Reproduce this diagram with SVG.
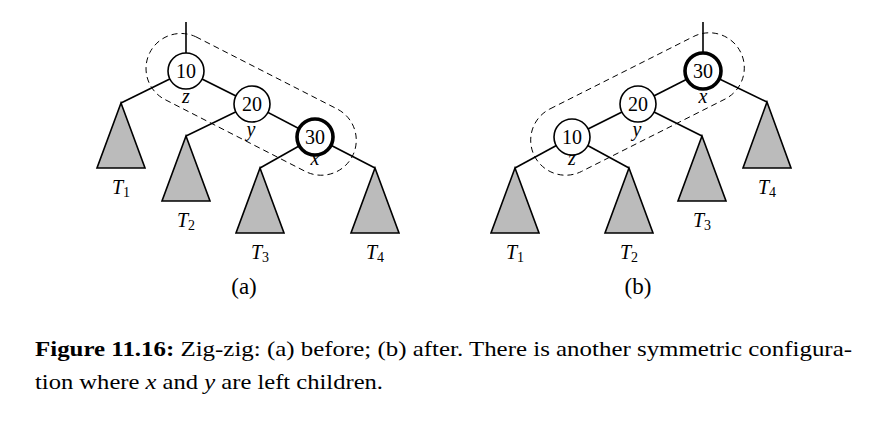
<svg xmlns="http://www.w3.org/2000/svg" width="882" height="423" viewBox="0 0 882 423">
<style>
.e{stroke:#000;stroke-width:1.6;fill:none}
.n{fill:#fff;stroke:#000;stroke-width:1.6}
.nb{fill:#fff;stroke:#000;stroke-width:3.6}
.t{fill:#bbbbbb;stroke:#000;stroke-width:1.6;stroke-linejoin:miter}
.d{fill:none;stroke:#000;stroke-width:1;stroke-dasharray:6 4}
text{font-family:'Liberation Serif','Times New Roman',serif}
.lab{font-size:20px;text-anchor:middle}
.it{font-style:italic;font-size:20px;text-anchor:middle}
.sub{font-style:normal;font-size:14px}
.cap{font-size:22px}
</style>
<rect width="882" height="423" fill="#fff"/>
<g id="connectors">
<line class="e" x1="186" y1="22" x2="186" y2="71"/>
<line class="e" x1="186" y1="71" x2="121" y2="103"/>
<line class="e" x1="186" y1="71" x2="252" y2="104"/>
<line class="e" x1="252" y1="104" x2="186" y2="136"/>
<line class="e" x1="252" y1="104" x2="315" y2="137"/>
<line class="e" x1="315" y1="137" x2="260" y2="168"/>
<line class="e" x1="315" y1="137" x2="375" y2="168"/>
<line class="e" x1="703" y1="22" x2="703" y2="71"/>
<line class="e" x1="703" y1="71" x2="638" y2="104"/>
<line class="e" x1="703" y1="71" x2="767" y2="102"/>
<line class="e" x1="638" y1="104" x2="702" y2="136"/>
<line class="e" x1="638" y1="104" x2="572" y2="137"/>
<line class="e" x1="572" y1="137" x2="515" y2="168"/>
<line class="e" x1="572" y1="137" x2="629" y2="168"/>
</g>
<g id="group-a">
<path class="d" d="M195.7 36.7 L337.2 109 A35 35 0 0 1 305.3 171.4 L163.9 99 A35 35 0 0 1 195.7 36.7 Z"/>
</g>
<g id="group-b">
<path class="d" d="M550 108.9 L693.6 36.5 A35 35 0 0 1 725 99.1 L581.4 171.5 A35 35 0 0 1 550 108.9 Z"/>
</g>
<g id="a-T1"><polygon class="t" points="121,103 97,168 145,168"/><text class="it" x="121" y="194">T<tspan class="sub" dy="3">1</tspan></text></g>
<g id="a-T2"><polygon class="t" points="186,136 162,201 210,201"/><text class="it" x="186" y="227">T<tspan class="sub" dy="3">2</tspan></text></g>
<g id="a-T3"><polygon class="t" points="260,168 236,233 284,233"/><text class="it" x="260" y="259">T<tspan class="sub" dy="3">3</tspan></text></g>
<g id="a-T4"><polygon class="t" points="375,168 351,233 399,233"/><text class="it" x="375" y="259">T<tspan class="sub" dy="3">4</tspan></text></g>
<g id="a-n10"><circle class="n" cx="186" cy="71" r="18"/><text class="lab" x="186" y="78">10</text><text class="it" x="186" y="103">z</text></g>
<g id="a-n20"><circle class="n" cx="252" cy="104" r="18"/><text class="lab" x="252" y="111">20</text><text class="it" x="251" y="136">y</text></g>
<g id="a-n30"><circle class="nb" cx="315" cy="137" r="18"/><text class="lab" x="315" y="144">30</text><text class="it" x="315" y="165">x</text></g>
<g id="b-T1"><polygon class="t" points="515,168 491,233 539,233"/><text class="it" x="515" y="259">T<tspan class="sub" dy="3">1</tspan></text></g>
<g id="b-T2"><polygon class="t" points="629,168 605,233 653,233"/><text class="it" x="629" y="259">T<tspan class="sub" dy="3">2</tspan></text></g>
<g id="b-T3"><polygon class="t" points="702,136 678,201 726,201"/><text class="it" x="702" y="227">T<tspan class="sub" dy="3">3</tspan></text></g>
<g id="b-T4"><polygon class="t" points="767,102 743,168 791,168"/><text class="it" x="767" y="194">T<tspan class="sub" dy="3">4</tspan></text></g>
<g id="b-n10"><circle class="n" cx="572" cy="137" r="18"/><text class="lab" x="572" y="144">10</text><text class="it" x="572" y="165">z</text></g>
<g id="b-n20"><circle class="n" cx="638" cy="104" r="18"/><text class="lab" x="638" y="111">20</text><text class="it" x="637" y="136">y</text></g>
<g id="b-n30"><circle class="nb" cx="703" cy="71" r="18"/><text class="lab" x="703" y="78">30</text><text class="it" x="703" y="103">x</text></g>
<g id="sublabels">
<text class="lab" x="244" y="294" style="font-size:23px">(a)</text>
<text class="lab" x="638" y="294" style="font-size:23px">(b)</text>
</g>
<g id="caption">
<text class="cap" x="35" y="356" textLength="817" lengthAdjust="spacingAndGlyphs"><tspan font-weight="bold">Figure 11.16:</tspan> Zig-zig: (a) before; (b) after.  There is another symmetric configura-</text>
<text class="cap" x="35" y="389" textLength="348" lengthAdjust="spacingAndGlyphs">tion where <tspan font-style="italic">x</tspan> and <tspan font-style="italic">y</tspan> are left children.</text>
</g>
</svg>
